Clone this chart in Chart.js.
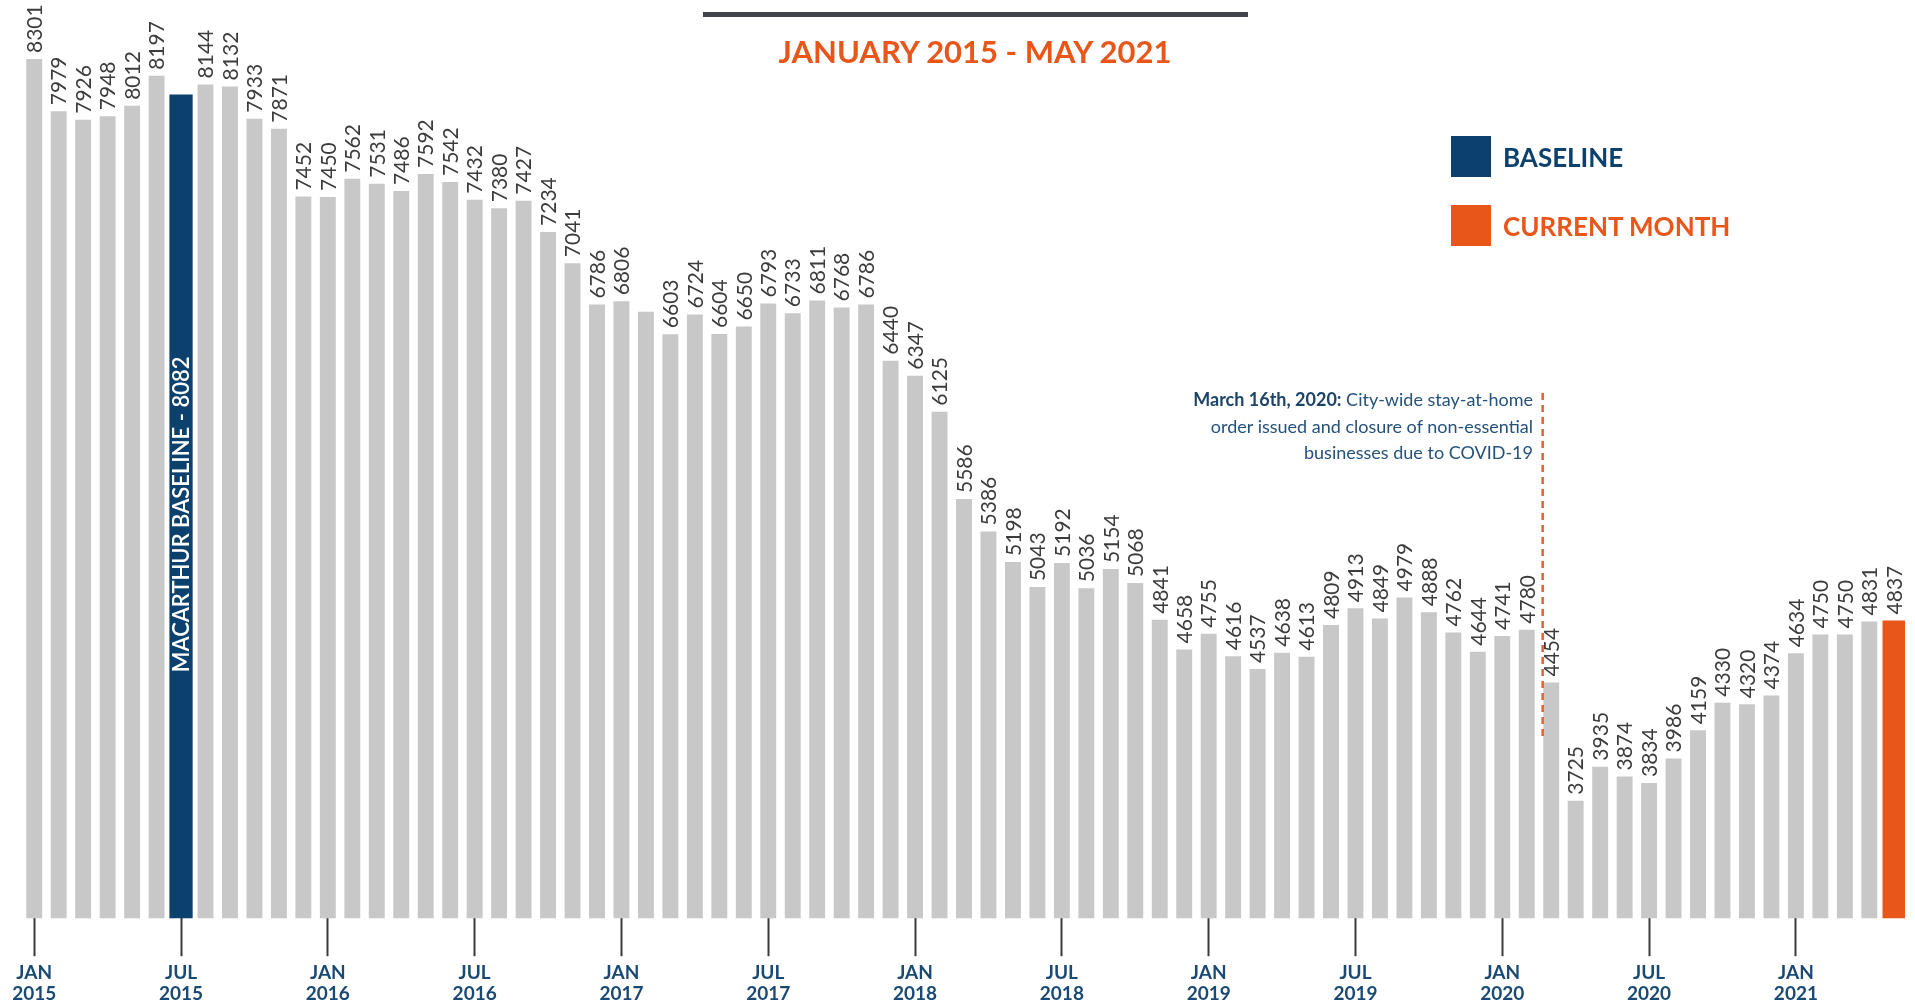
<!DOCTYPE html>
<html>
<head>
<meta charset="utf-8">
<script src="https://cdn.jsdelivr.net/npm/chart.js@4.4.1/dist/chart.umd.min.js"></script>
<style>
  html, body { margin: 0; padding: 0; background: #fff; }
  #wrap { position: relative; width: 1915px; height: 1004px; font-family: Lato, sans-serif; overflow: hidden; }
  #wrap canvas { position: absolute; left: 0; top: 0; }
  .rule { position: absolute; left: 703px; top: 12px; width: 545px; height: 5px; background: #3f454b; }
  .title { position: absolute; left: 675px; width: 600px; top: 32px; text-align: center;
           color: #e8561a; font-weight: 700; font-size: 31px; line-height: 38px; }
  .key { position: absolute; left: 1451px; width: 40px; height: 41px; }
  .keytext { position: absolute; left: 1503px; font-weight: 700; font-size: 26px; line-height: 30px; }
  .note { position: absolute; right: 382px; top: 386px; text-align: right; color: #24527a;
          font-size: 18px; line-height: 26.5px; }
  .note b { color: #1d4468; }
</style>
</head>
<body>
<div id="wrap">
  <canvas id="myChart" width="1915" height="1010"></canvas>
  <div class="rule"></div>
  <div class="title">JANUARY 2015 - MAY 2021</div>
  <div class="key" style="top:136px; background:#0b416c;"></div>
  <div class="keytext" style="top:142px; color:#0b416c;">BASELINE</div>
  <div class="key" style="top:205px; background:#e8561a;"></div>
  <div class="keytext" style="top:211px; color:#e8561a;">CURRENT MONTH</div>
  <div class="note"><b>March 16th, 2020:</b> City-wide stay-at-home<br>order issued and closure of non-essential<br>businesses due to COVID-19</div>
</div>
<script>
let monthNames = ['JAN', 'FEB', 'MAR', 'APR', 'MAY', 'JUN', 'JUL', 'AUG', 'SEP', 'OCT', 'NOV', 'DEC'];
let startYear = 2015;
let tickMonths = ['JAN', 'JUL'];

let values = [
  8301, 7979, 7926, 7948, 8012, 8197, 8082, 8144, 8132, 7933, 7871, 7452,
  7450, 7562, 7531, 7486, 7592, 7542, 7432, 7380, 7427, 7234, 7041, 6786,
  6806, 6741, 6603, 6724, 6604, 6650, 6793, 6733, 6811, 6768, 6786, 6440,
  6347, 6125, 5586, 5386, 5198, 5043, 5192, 5036, 5154, 5068, 4841, 4658,
  4755, 4616, 4537, 4638, 4613, 4809, 4913, 4849, 4979, 4888, 4762, 4644,
  4741, 4780, 4454, 3725, 3935, 3874, 3834, 3986, 4159, 4330, 4320, 4374,
  4634, 4750, 4750, 4831, 4837
];

let baselineIndex = 6;                  // JUL 2015
let currentIndex = values.length - 1;   // MAY 2021
let covidIndex = 62;                    // MAR 2020
let noLabel = [baselineIndex, 25];      // bars printed without a number

let categories = values.map((v, i) => monthNames[i % 12] + ' ' + (startYear + Math.floor(i / 12)));

let grayData = values.map((v, i) => (i === baselineIndex || i === currentIndex) ? null : v);
let baseData = values.map((v, i) => i === baselineIndex ? v : null);
let currData = values.map((v, i) => i === currentIndex ? v : null);

function isTick(i) {
  return tickMonths.includes(monthNames[i % 12]);
}

const barLabels = {
  id: 'barLabels',
  afterDatasetsDraw(chart) {
    const ctx = chart.ctx;
    const xs = chart.scales.x, ys = chart.scales.y;
    ctx.save();
    ctx.font = '21px Lato';
    ctx.fillStyle = '#3b3b3b';
    ctx.textAlign = 'left';
    ctx.textBaseline = 'middle';
    chart.data.datasets.forEach((ds, di) => {
      chart.getDatasetMeta(di).data.forEach((bar, i) => {
        if (ds.data[i] == null || noLabel.includes(i)) return;
        ctx.save();
        ctx.translate(bar.x + 1, bar.y - 6);
        ctx.rotate(-Math.PI / 2);
        ctx.fillText(ds.data[i], 0, 0);
        ctx.restore();
      });
    });

    // text inside the baseline bar
    const b = chart.getDatasetMeta(1).data[baselineIndex];
    const bottom = chart.chartArea.bottom;
    ctx.save();
    ctx.translate(b.x + 1, (b.y + bottom) / 2 + 8);
    ctx.rotate(-Math.PI / 2);
    ctx.font = '600 22px Lato';
    ctx.fillStyle = '#fff';
    ctx.textAlign = 'center';
    ctx.fillText('MACARTHUR BASELINE - ' + values[baselineIndex], 0, 0);
    ctx.restore();

    // covid marker
    const step = xs.getPixelForValue(covidIndex) - xs.getPixelForValue(covidIndex - 1);
    const lx = xs.getPixelForValue(covidIndex) - 0.35 * step;
    ctx.beginPath();
    ctx.setLineDash([7, 5]);
    ctx.lineWidth = 2.5;
    ctx.strokeStyle = '#e8612c';
    ctx.moveTo(lx, ys.getPixelForValue(6240));
    ctx.lineTo(lx, ys.getPixelForValue(4110));
    ctx.stroke();
    ctx.restore();
  }
};

let ctx = document.getElementById('myChart').getContext('2d');
let myChart = new Chart(ctx, {
  type: 'bar',
  data: {
    labels: categories,
    datasets: [
      { data: grayData, backgroundColor: '#c8c8c8', grouped: false, barPercentage: 0.65, categoryPercentage: 1 },
      { data: baseData, backgroundColor: '#0b416c', grouped: false, barPercentage: 0.95, categoryPercentage: 1 },
      { data: currData, backgroundColor: '#e8561a', grouped: false, barPercentage: 0.92, categoryPercentage: 1 }
    ]
  },
  options: {
    responsive: false,
    animation: false,
    layout: { padding: { top: 59, left: 22, right: 9, bottom: 0 } },
    plugins: { legend: { display: false }, tooltip: { enabled: false } },
    scales: {
      x: {
        offset: true,
        border: { display: false },
        grid: {
          offset: false,
          drawOnChartArea: false,
          tickLength: 38,
          tickWidth: 2,
          tickColor: (c) => isTick(c.index) ? '#3a3a3a' : 'rgba(0,0,0,0)'
        },
        ticks: {
          autoSkip: false,
          maxRotation: 0,
          minRotation: 0,
          padding: 6,
          color: '#1a4a73',
          font: { family: 'Lato', weight: 'bold', size: 19, lineHeight: 1.1 },
          callback: (v, i) => isTick(i) ? categories[i].split(' ') : ''
        }
      },
      y: {
        display: false,
        min: 3000,
        max: Math.max(...values)
      }
    }
  },
  plugins: [barLabels]
});
</script>
</body>
</html>
